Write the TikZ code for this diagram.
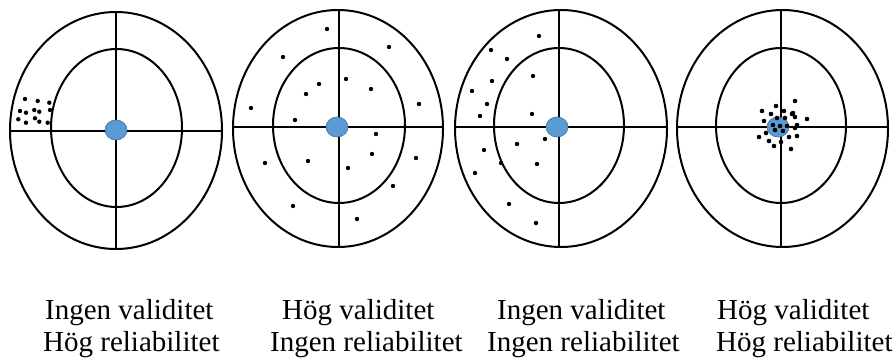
\documentclass[tikz,border=0pt]{standalone}
\usepackage{fontspec}
\setmainfont{Liberation Serif}
\definecolor{bluedot}{HTML}{5B9BD5}
\definecolor{blueedge}{HTML}{41719C}
\begin{document}
\begin{tikzpicture}[x=1pt,y=-1pt,
  ring/.style={draw=black,line width=2pt},
  cross/.style={draw=black,line width=2.2pt},
  bull/.style={fill=bluedot,draw=blueedge,line width=0.6pt},
  hit/.style={fill=black},
  lbl/.style={anchor=base west,inner sep=0pt,font=\fontsize{29}{33}\selectfont}]
\useasboundingbox (0,0) rectangle (894,358);
\fill[white] (0,0) rectangle (894,358);

% ---- Target 1
\draw[ring] (116,130.5) ellipse [x radius=106pt, y radius=118.5pt];
\draw[ring] (116.5,128) ellipse [x radius=65.5pt, y radius=79pt];
\draw[cross] (10,131) -- (222,131);
\draw[cross] (116,12) -- (116,249);
\filldraw[bull] (116,130) ellipse [x radius=11pt, y radius=10pt];
\foreach \p in {(25,99),(37.7,101),(49.3,102.7),(20,111),(26,112.7),(34.3,110),(39.3,111.7),(50,110),(18.3,119.3),(26,122.7),(35,118.3),(39.3,121.7),(47.7,122.7)}
  \fill[hit] \p circle[radius=2.2pt];

% ---- Target 2
\draw[ring] (338,128.5) ellipse [x radius=105pt, y radius=118.5pt];
\draw[ring] (339,125.5) ellipse [x radius=66pt, y radius=77.5pt];
\draw[cross] (233,127) -- (443,127);
\draw[cross] (339,10) -- (339,247);
\filldraw[bull] (337,127) ellipse [x radius=11pt, y radius=10pt];
\foreach \p in {(327,29),(283,57),(389,47),(319,84),(346,79),(371,89),(306,94),(251,108),(419,104),(295,120),(376,134),(372,154),(265,163),(308,161),(348,168),(416,158),(393,186),(293,206),(357,219)}
  \fill[hit] \p circle[radius=2.2pt];

% ---- Target 3
\draw[ring] (561,128.5) ellipse [x radius=106pt, y radius=118.5pt];
\draw[ring] (559,125.5) ellipse [x radius=65pt, y radius=77.5pt];
\draw[cross] (455,127) -- (667,127);
\draw[cross] (559,10) -- (559,247);
\filldraw[bull] (557,127) ellipse [x radius=11pt, y radius=10pt];
\foreach \p in {(539,36),(491,50),(507,59),(533,76),(492,81),(472,91),(487,104),(480,116),(532,114),(545,139),(517,144),(484,150),(501,163),(537,164),(475,173),(509,204),(536,223)}
  \fill[hit] \p circle[radius=2.2pt];

% ---- Target 4
\draw[ring] (782.5,128.5) ellipse [x radius=105.5pt, y radius=118.5pt];
\draw[ring] (781,125.5) ellipse [x radius=65pt, y radius=77.5pt];
\draw[cross] (677,127) -- (888,127);
\draw[cross] (781,10) -- (781,247);
\filldraw[bull] (778,127) ellipse [x radius=11pt, y radius=10pt];
\foreach \p in {(795,101),(762,111),(776,106),(771,114),(784,111),(792,114),(764,121),(777,118),(785,118),(795,117),(807,119),(797,125),(773,125),(780,126),(787,126),(775,130),(783,131),(795,128),(766,133),(759,137),(789,137),(797,136),(769,141),(781,142),(774,146),(791,149),(793,113)}
  \fill[hit] \p circle[radius=2.3pt];

% ---- Labels
\node[lbl] (l1a) at (45,319) {Ingen validitet};
\node[lbl] (l1b) at (43,351.5) {Hög reliabilitet};
\node[lbl] (l2a) at (282,319) {Hög validitet};
\node[lbl] (l2b) at (270,351.5) {Ingen reliabilitet};
\node[lbl] (l3a) at (497,319) {Ingen validitet};
\node[lbl] (l3b) at (487,351.5) {Ingen reliabilitet};
\node[lbl] (l4a) at (717,319) {Hög validitet};
\node[lbl] (l4b) at (716,351.5) {Hög reliabilitet};
\end{tikzpicture}
\end{document}
